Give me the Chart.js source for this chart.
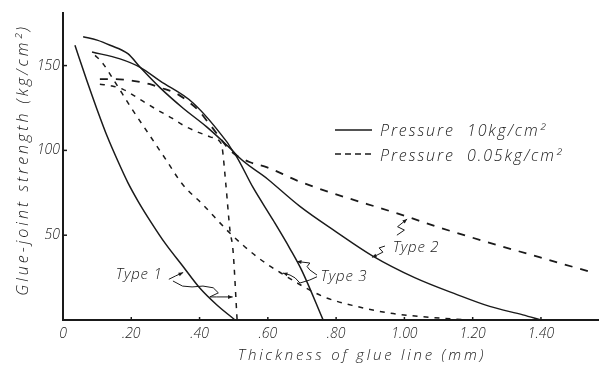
<!DOCTYPE html>
<html lang="en">
<head>
<meta charset="UTF-8">
<title>Glue-joint strength vs thickness of glue line</title>
<script src="https://cdn.jsdelivr.net/npm/chart.js"></script>
<style>
  body { margin: 0; background: #fff; }
  #wrap { width: 599px; height: 372px; position: relative; }
</style>
</head>
<body>
<div id="wrap"><canvas id="glueChart"></canvas></div>
<script>
// values: thickness (mm) -> strength (kg/cm2)
const type1SolidX = [0.035, 0.07, 0.10, 0.13, 0.16, 0.19, 0.22, 0.26, 0.30, 0.35, 0.40, 0.45, 0.504];
const type1SolidY = [162, 141, 124, 108, 94, 81, 70, 57, 45, 32, 19, 9, 0];
const type2SolidX = [0.085, 0.167, 0.226, 0.284, 0.381, 0.48, 0.50, 0.60, 0.694, 0.80, 0.905, 1.03, 1.154, 1.25, 1.347, 1.40];
const type2SolidY = [158, 154, 149, 141, 128, 105, 99, 83, 67, 52, 38, 25, 15, 8, 3, 0];
const type3SolidX = [0.059, 0.10, 0.138, 0.19, 0.226, 0.284, 0.351, 0.42, 0.48, 0.50, 0.557, 0.615, 0.665, 0.70, 0.762];
const type3SolidY = [167, 165, 162, 157, 149, 137, 125, 114, 103, 99, 78, 59, 42, 29, 0];

const type1DashX = [0.108, 0.144, 0.176, 0.202, 0.234, 0.275, 0.319, 0.351, 0.392, 0.431, 0.46, 0.466, 0.477, 0.489, 0.498, 0.51];
const type1DashY = [139, 138, 136, 133, 129, 124, 119, 115, 111, 108, 105, 102, 80, 53, 41, 0];
const type2DashX = [0.108, 0.152, 0.205, 0.255, 0.284, 0.328, 0.372, 0.395, 0.431, 0.495, 0.548, 0.598, 0.644, 0.688, 1.007, 1.095, 1.55];
const type2DashY = [142, 142, 141, 139, 137, 134, 128, 124, 115, 99, 93, 90, 86, 82, 61, 55, 28];
const type3DashX = [0.094, 0.114, 0.15, 0.20, 0.25, 0.30, 0.35, 0.41, 0.49, 0.57, 0.636, 0.76, 0.86, 0.96, 1.05, 1.19];
const type3DashY = [156, 152, 141, 125, 110, 95, 80, 68, 51, 37, 28, 14, 8, 4, 2, 0];

const xTickValues = [0, 0.2, 0.4, 0.6, 0.8, 1.0, 1.2, 1.4];
const xTickLabels = ['0', '.20', '.40', '.60', '.80', '1.00', '1.20', '1.40'];
const yTickValues = [50, 100, 150];
const yTickLabels = ['50', '100', '150'];

const seriesNames = ['Pressure  10kg/cm²', 'Pressure  0.05kg/cm²'];
const typeNames = ['Type 1', 'Type 2', 'Type 3'];

const ink = '#1a1a1a';
const fontFamily = '"Open Sans", "DejaVu Sans", sans-serif';

function pts(xs, ys) {
  return xs.map((v, i) => ({ x: v, y: ys[i] }));
}

function lineSet(xs, ys, dash, width) {
  return {
    data: pts(xs, ys),
    borderColor: ink,
    borderWidth: width,
    borderDash: dash,
    pointRadius: 0,
    fill: false,
    cubicInterpolationMode: 'monotone'
  };
}

// label anchors and hand-drawn leaders, in data units
const typeNotes = [
  { name: typeNames[0], at: [0.223, 26.5],
    leaders: [
      [[0.31, 24], [0.33, 26], [0.352, 28]],
      [[0.322, 23], [0.35, 20], [0.378, 19.5], [0.41, 20], [0.44, 19], [0.455, 16], [0.43, 13.6], [0.45, 13.6], [0.497, 13.6]]
    ] },
  { name: typeNames[1], at: [1.034, 42.5],
    leaders: [
      [[0.943, 43.6], [0.926, 42.5], [0.937, 40], [0.92, 38.3], [0.905, 37]],
      [[0.978, 50], [1.0, 53], [0.98, 55], [1.008, 59.5]]
    ] },
  { name: typeNames[2], at: [0.823, 25.4],
    leaders: [
      [[0.744, 26.5], [0.723, 29.5], [0.715, 31.5], [0.723, 33.6], [0.685, 34.5]],
      [[0.744, 25.5], [0.723, 23.6], [0.694, 21.8], [0.68, 24.8], [0.665, 26.5], [0.644, 27.7]]
    ] }
];

function arrowHead(ctx, x0, y0, x1, y1) {
  const a = Math.atan2(y1 - y0, x1 - x0);
  const s = 5;
  ctx.beginPath();
  ctx.moveTo(x1, y1);
  ctx.lineTo(x1 - s * Math.cos(a - 0.4), y1 - s * Math.sin(a - 0.4));
  ctx.lineTo(x1 - s * Math.cos(a + 0.4), y1 - s * Math.sin(a + 0.4));
  ctx.closePath();
  ctx.fill();
}

const figurePlugin = {
  id: 'figureText',
  afterDraw(chart) {
    const { ctx, chartArea } = chart;
    const sx = chart.scales.x, sy = chart.scales.y;
    ctx.save();
    ctx.fillStyle = ink;
    ctx.strokeStyle = ink;

    // small inward tick marks
    ctx.lineWidth = 1.5;
    xTickValues.forEach(v => {
      if (v === 0) return;
      const px = sx.getPixelForValue(v);
      ctx.beginPath(); ctx.moveTo(px, chartArea.bottom); ctx.lineTo(px, chartArea.bottom - 3); ctx.stroke();
    });
    yTickValues.forEach(v => {
      const py = sy.getPixelForValue(v);
      ctx.beginPath(); ctx.moveTo(chartArea.left, py); ctx.lineTo(chartArea.left + 4, py); ctx.stroke();
    });

    // axis titles
    ctx.textAlign = 'center';
    ctx.textBaseline = 'middle';
    ctx.font = 'italic 300 15px ' + fontFamily;
    ctx.letterSpacing = '2.8px';
    ctx.fillText('Thickness of glue line (mm)', 362, 356);
    ctx.save();
    ctx.translate(23, 160);
    ctx.rotate(-Math.PI / 2);
    ctx.font = 'italic 300 16px ' + fontFamily;
    ctx.letterSpacing = '3px';
    ctx.fillText('Glue-joint strength (kg/cm²)', 0, 0);
    ctx.restore();

    // legend
    ctx.textAlign = 'left';
    ctx.font = 'italic 300 16px ' + fontFamily;
    ctx.letterSpacing = '1.9px';
    ctx.lineWidth = 1.6;
    ctx.beginPath(); ctx.moveTo(335, 130); ctx.lineTo(372, 130); ctx.stroke();
    ctx.fillText(seriesNames[0], 380, 131);
    ctx.setLineDash([6, 4]);
    ctx.beginPath(); ctx.moveTo(335, 154); ctx.lineTo(373, 154); ctx.stroke();
    ctx.setLineDash([]);
    ctx.fillText(seriesNames[1], 380, 156);

    // type labels with leaders
    ctx.textAlign = 'center';
    ctx.font = 'italic 300 15px ' + fontFamily;
    ctx.letterSpacing = '0.8px';
    ctx.lineWidth = 1;
    typeNotes.forEach(n => {
      ctx.fillText(n.name, sx.getPixelForValue(n.at[0]), sy.getPixelForValue(n.at[1]));
      n.leaders.forEach(l => {
        const p = l.map(q => [sx.getPixelForValue(q[0]), sy.getPixelForValue(q[1])]);
        ctx.beginPath();
        ctx.moveTo(p[0][0], p[0][1]);
        for (let i = 1; i < p.length; i++) ctx.lineTo(p[i][0], p[i][1]);
        ctx.stroke();
        const a = p[p.length - 2], b = p[p.length - 1];
        arrowHead(ctx, a[0], a[1], b[0], b[1]);
      });
    });
    ctx.restore();
  }
};

const tickFont = { family: fontFamily, style: 'italic', weight: 300, size: 14 };

new Chart(document.getElementById('glueChart'), {
  type: 'line',
  data: {
    datasets: [
      lineSet(type1SolidX, type1SolidY, [], 1.5),
      lineSet(type2SolidX, type2SolidY, [], 1.4),
      lineSet(type3SolidX, type3SolidY, [], 1.5),
      lineSet(type1DashX, type1DashY, [5, 6], 1.5),
      lineSet(type2DashX, type2DashY, [8, 8], 1.8),
      lineSet(type3DashX, type3DashY, [5, 6], 1.5)
    ]
  },
  options: {
    responsive: true,
    maintainAspectRatio: false,
    animation: false,
    layout: { padding: { top: 13, right: 0, left: 0, bottom: 0 } },
    plugins: { legend: { display: false }, tooltip: { enabled: false } },
    scales: {
      x: {
        type: 'linear',
        min: 0,
        max: 1.57,
        grid: { display: false, drawTicks: false },
        border: { display: true, color: ink, width: 2 },
        afterBuildTicks: s => { s.ticks = xTickValues.map(v => ({ value: v })); },
        afterFit: s => { s.height = 52; },
        ticks: {
          padding: 6,
          color: ink,
          font: tickFont,
          maxRotation: 0,
          autoSkip: false,
          callback: v => xTickLabels[xTickValues.indexOf(v)]
        }
      },
      y: {
        min: 0,
        max: 181,
        grid: { display: false, drawTicks: false },
        border: { display: true, color: ink, width: 2 },
        afterBuildTicks: s => { s.ticks = yTickValues.map(v => ({ value: v })); },
        afterFit: s => { s.width = 63; },
        ticks: {
          padding: 3,
          color: ink,
          font: tickFont,
          callback: v => yTickLabels[yTickValues.indexOf(v)]
        }
      }
    }
  },
  plugins: [figurePlugin]
});
</script>
</body>
</html>
